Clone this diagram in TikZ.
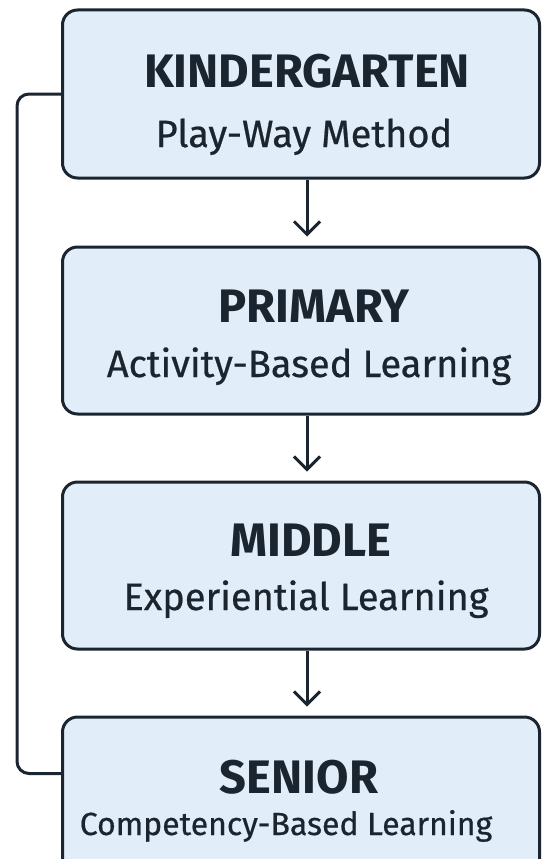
\documentclass[tikz,border=0pt]{standalone}
\usepackage{fontspec}
\setmainfont{Fira Sans}
\usetikzlibrary{arrows.meta}
\definecolor{boxfill}{HTML}{E1EDF8}
\definecolor{ink}{HTML}{1B2530}

\tikzset{
	stage/.style={draw=ink, line width=3pt, fill=boxfill, rounded corners=15pt, minimum width=477pt, inner sep=0pt},
	title/.style={anchor=base, text=ink, inner sep=0pt, font=\fontsize{47}{50}\selectfont\bfseries},
	subtitle/.style={anchor=base, text=ink, inner sep=0pt, font=\fontsize{38}{42}\selectfont\addfontfeatures{FakeBold=0.6}},
	flow/.style={draw=ink, line width=3pt, -{Straight Barb[length=13pt,width=26pt,line width=3pt]}, shorten >=9pt},
	link/.style={draw=ink, line width=3pt, rounded corners=12pt}
}

\begin{document}
\begin{tikzpicture}[x=1pt,y=1pt,yscale=-1]
	\useasboundingbox (0,0) rectangle (542,859);
	\clip (0,0) rectangle (542,859);
	% stages
	\node[stage, minimum height=168pt] (kg) at (301,94) {};
	\node[stage, minimum height=167pt] (prim) at (301,330.5) {};
	\node[stage, minimum height=167pt] (mid) at (301,565.5) {};
	\node[stage, minimum height=168pt] (sen) at (301,801) {};
	% texts
	\node[title] (kgt) at (307,88) {KINDERGARTEN};
	\node[subtitle] (kgs) at (304,147) {Play-Way Method};
	\node[title] (primt) at (314,322) {PRIMARY};
	\node[subtitle] (prims) at (309,377) {Activity-Based Learning};
	\node[title] (midt) at (311,556) {MIDDLE};
	\node[subtitle] (mids) at (306,610) {Experiential Learning};
	\node[title] (sent) at (299,793) {SENIOR};
	\node[subtitle, font=\fontsize{32}{36}\selectfont\addfontfeatures{FakeBold=0.6}] (sens) at (286,835) {Competency-Based Learning};
	% arrows
	\draw[flow] ([xshift=6pt]kg.south) -- ([xshift=6pt]prim.north);
	\draw[flow] ([xshift=6pt]prim.south) -- ([xshift=6pt]mid.north);
	\draw[flow] ([xshift=6pt]mid.south) -- ([xshift=6pt]sen.north);
	% loop back on the left
	\draw[link] (kg.west) -- ++(-44,0) |- ([yshift=58pt]sen.north west);
\end{tikzpicture}
\end{document}
